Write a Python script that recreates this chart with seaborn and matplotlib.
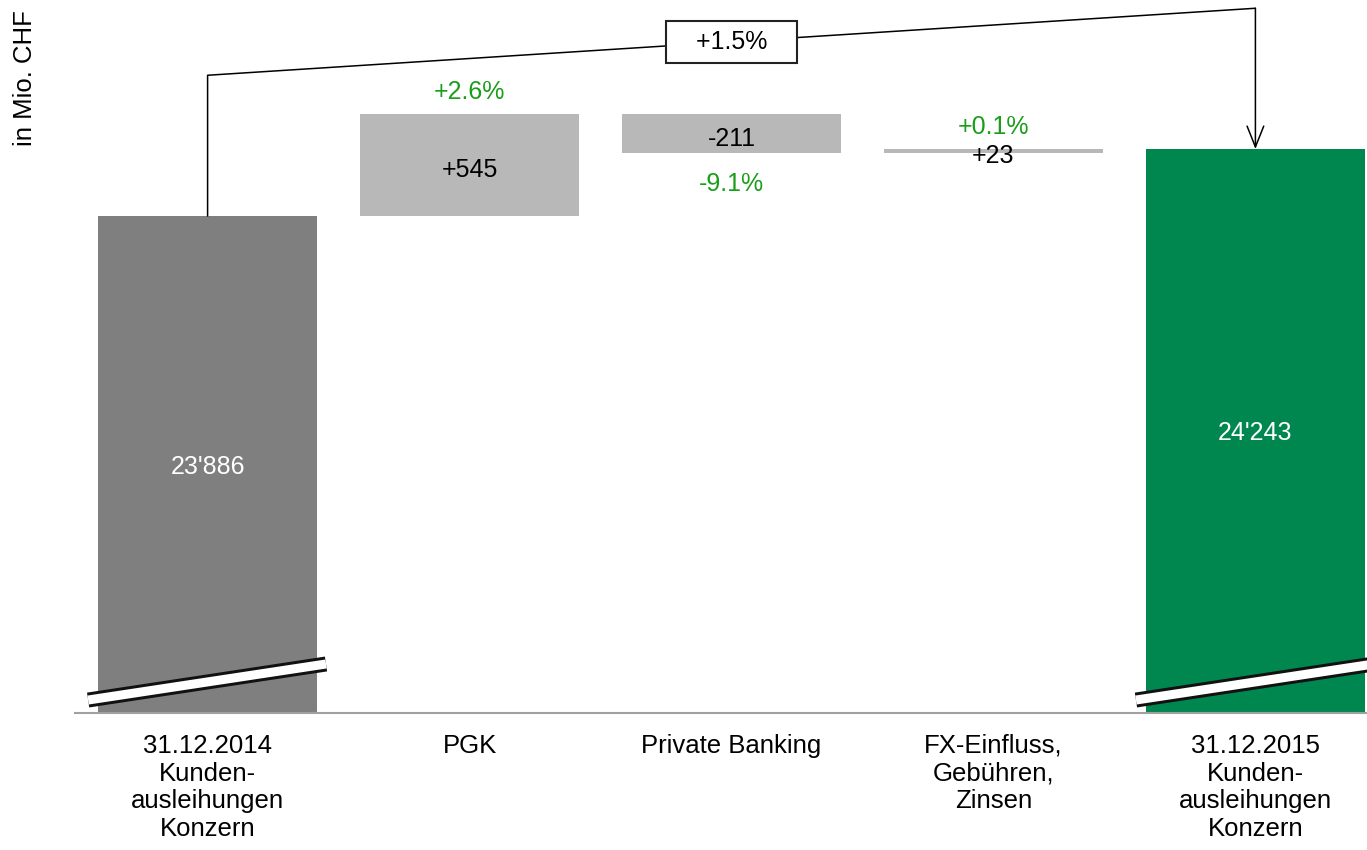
import numpy as np
import pandas as pd
import matplotlib
matplotlib.use('Agg')
import matplotlib.pyplot as plt
import seaborn as sns

# Daten
kategorien = ["31.12.2014\nKunden-\nausleihungen\nKonzern", "PGK", "Private Banking",
              "FX-Einfluss,\nGebühren,\nZinsen", "31.12.2015\nKunden-\nausleihungen\nKonzern"]
start_wert = 23886
veraenderungen = [545, -211, 23]
end_wert = 24243
veraenderung_labels = ["+545", "-211", "+23"]
prozent_labels = ["+2.6%", "-9.1%", "+0.1%"]
total_labels = ["23'886", "24'243"]
total_prozent = "+1.5%"

# Wasserfall berechnen
kumuliert = start_wert + np.cumsum(veraenderungen)
vorher = np.concatenate([[start_wert], kumuliert[:-1]])
oben = [start_wert] + list(np.maximum(vorher, kumuliert)) + [end_wert]
unten = [0] + list(np.minimum(vorher, kumuliert)) + [0]

df = pd.DataFrame({"kategorie": kategorien, "oben": oben, "unten": unten})
farben = ["#7f7f7f", "#b8b8b8", "#b8b8b8", "#b8b8b8", "#00874f"]
gruen = "#1a9e1a"

sns.set_style("white")
plt.rcParams['font.family'] = ['Liberation Sans', 'DejaVu Sans']

fig = plt.figure(figsize=(13.67, 8.5), dpi=100)
ax = fig.add_axes([0.0549, 0.1612, 0.9451, 0.8388])

y_min, y_max = 21238, 25037
breite = 0.836

# Balken: oben farbig, unten weiss abdecken
sns.barplot(data=df, x="kategorie", y="oben", hue="kategorie", palette=farben,
            saturation=1, width=breite, linewidth=0, errorbar=None, legend=False, ax=ax)
sns.barplot(data=df, x="kategorie", y="unten", hue="kategorie", palette=["white"] * 5,
            saturation=1, width=breite, linewidth=0, errorbar=None, legend=False, ax=ax)

ax.set_ylim(y_min, y_max)
ax.set_xlim(-0.506, 4.426)
ax.set_xlabel("")
ax.set_ylabel("")
ax.set_yticks([])
ax.tick_params(axis='x', length=0, pad=15, labelsize=18.5, colors='black')
for s in ["left", "top", "right"]:
    ax.spines[s].set_visible(False)
ax.spines["bottom"].set_color("#a0a0a0")
ax.spines["bottom"].set_linewidth(1.5)

# Beschriftungen der Veraenderungen
for i, (d, lab, pct) in enumerate(zip(veraenderungen, veraenderung_labels, prozent_labels), start=1):
    mitte = (oben[i] + unten[i]) / 2
    ax.annotate(lab, (i, mitte), xytext=(0, -2), textcoords="offset points",
                ha="center", va="center_baseline", fontsize=18, color="black", zorder=5)
    if d >= 0:
        ax.annotate(pct, (i, oben[i]), xytext=(0, 16), textcoords="offset points",
                    ha="center", va="center", fontsize=18, color=gruen)
    else:
        ax.annotate(pct, (i, unten[i]), xytext=(0, -22), textcoords="offset points",
                    ha="center", va="center", fontsize=18, color=gruen)

# Totale
for i, (wert, lab) in zip([0, 4], zip([start_wert, end_wert], total_labels)):
    ax.text(i, (y_min + wert) / 2, lab, ha="center", va="center_baseline",
            fontsize=18, color="white")

# Achsenbruch
for i in [0, 4]:
    bx = [i - 0.456, i + 0.452]
    by = [y_min + 69, y_min + 261]
    ax.plot(bx, by, color="#111111", lw=10.8, solid_capstyle="butt", zorder=4)
    ax.plot(bx, by, color="white", lw=6.5, solid_capstyle="butt", zorder=4)

# Verbindungslinie mit Pfeil
abstand = 750
ax.plot([0, 0, 4], [start_wert, start_wert + abstand, end_wert + abstand],
        color="black", lw=1.1, zorder=3)
ax.annotate("", xy=(4, end_wert), xytext=(4, end_wert + abstand),
            arrowprops=dict(arrowstyle="->,head_length=0.75,head_width=0.3",
                            color="black", lw=1.1, mutation_scale=20,
                            shrinkA=0, shrinkB=0))
ax.text(2, (start_wert + end_wert) / 2 + abstand, "   " + total_prozent + "   ",
        ha="center", va="center", fontsize=18, color="black", zorder=6,
        bbox=dict(boxstyle="square,pad=0.35", fc="white", ec="#222222", lw=1.5))

fig.text(0.0183, 0.988, "in Mio. CHF", rotation=90, ha="center", va="top",
         fontsize=18.5, color="black")

fig.savefig("out.png", dpi=100)
